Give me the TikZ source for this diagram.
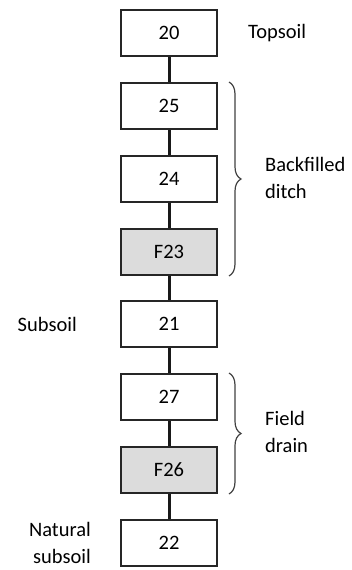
\documentclass[tikz,border=0pt]{standalone}
\usepackage{fontspec}
\setmainfont{Carlito}
\usetikzlibrary{decorations.pathreplacing}
\definecolor{boxgray}{HTML}{DCDCDC}
\begin{document}
\begin{tikzpicture}[x=1pt,y=-1pt,
  txt/.style={font=\fontsize{20.5}{27}\selectfont, inner sep=0pt},
  box/.style={txt, draw=black!85, line width=2pt, minimum width=96pt, minimum height=46pt, fill=white},
  featbox/.style={box, fill=boxgray},
  link/.style={line width=3pt, draw=black!90},
  grp/.style={decorate, decoration={brace, amplitude=12pt}, draw=black!75, line width=1.2pt}]
\useasboundingbox (0,0) rectangle (351,570);
\node[box] (n20) at (169,32.5) {20};
\node[box] (n25) at (169,106) {25};
\node[box] (n24) at (169,178.5) {24};
\node[featbox] (f23) at (169,252) {F23};
\node[box] (n21) at (169,324) {21};
\node[box] (n27) at (169,397) {27};
\node[featbox] (f26) at (169,470) {F26};
\node[box] (n22) at (169,542.5) {22};
\draw[link] (n20) -- (n25);
\draw[link] (n25) -- (n24);
\draw[link] (n24) -- (f23);
\draw[link] (f23) -- (n21);
\draw[link] (n21) -- (n27);
\draw[link] (n27) -- (f26);
\draw[link] (f26) -- (n22);
\coordinate (b1t) at (229,82);
\coordinate (b1b) at (229,276);
\coordinate (b2t) at (229,373);
\coordinate (b2b) at (229,494);
\draw[grp] (b1t) -- (b1b);
\draw[grp] (b2t) -- (b2b);
\node[txt, anchor=west] (topsoil) at (248,33) {Topsoil};
\node[txt, anchor=west, align=left] (ditch) at (265,178) {Backfilled\\ditch};
\node[txt, anchor=west, align=left] (drain) at (265,432) {Field\\drain};
\node[txt, anchor=east] (subsoil) at (77,324) {Subsoil};
\node[txt, anchor=east, align=right] (natural) at (91,543) {Natural\\subsoil};
\end{tikzpicture}
\end{document}
